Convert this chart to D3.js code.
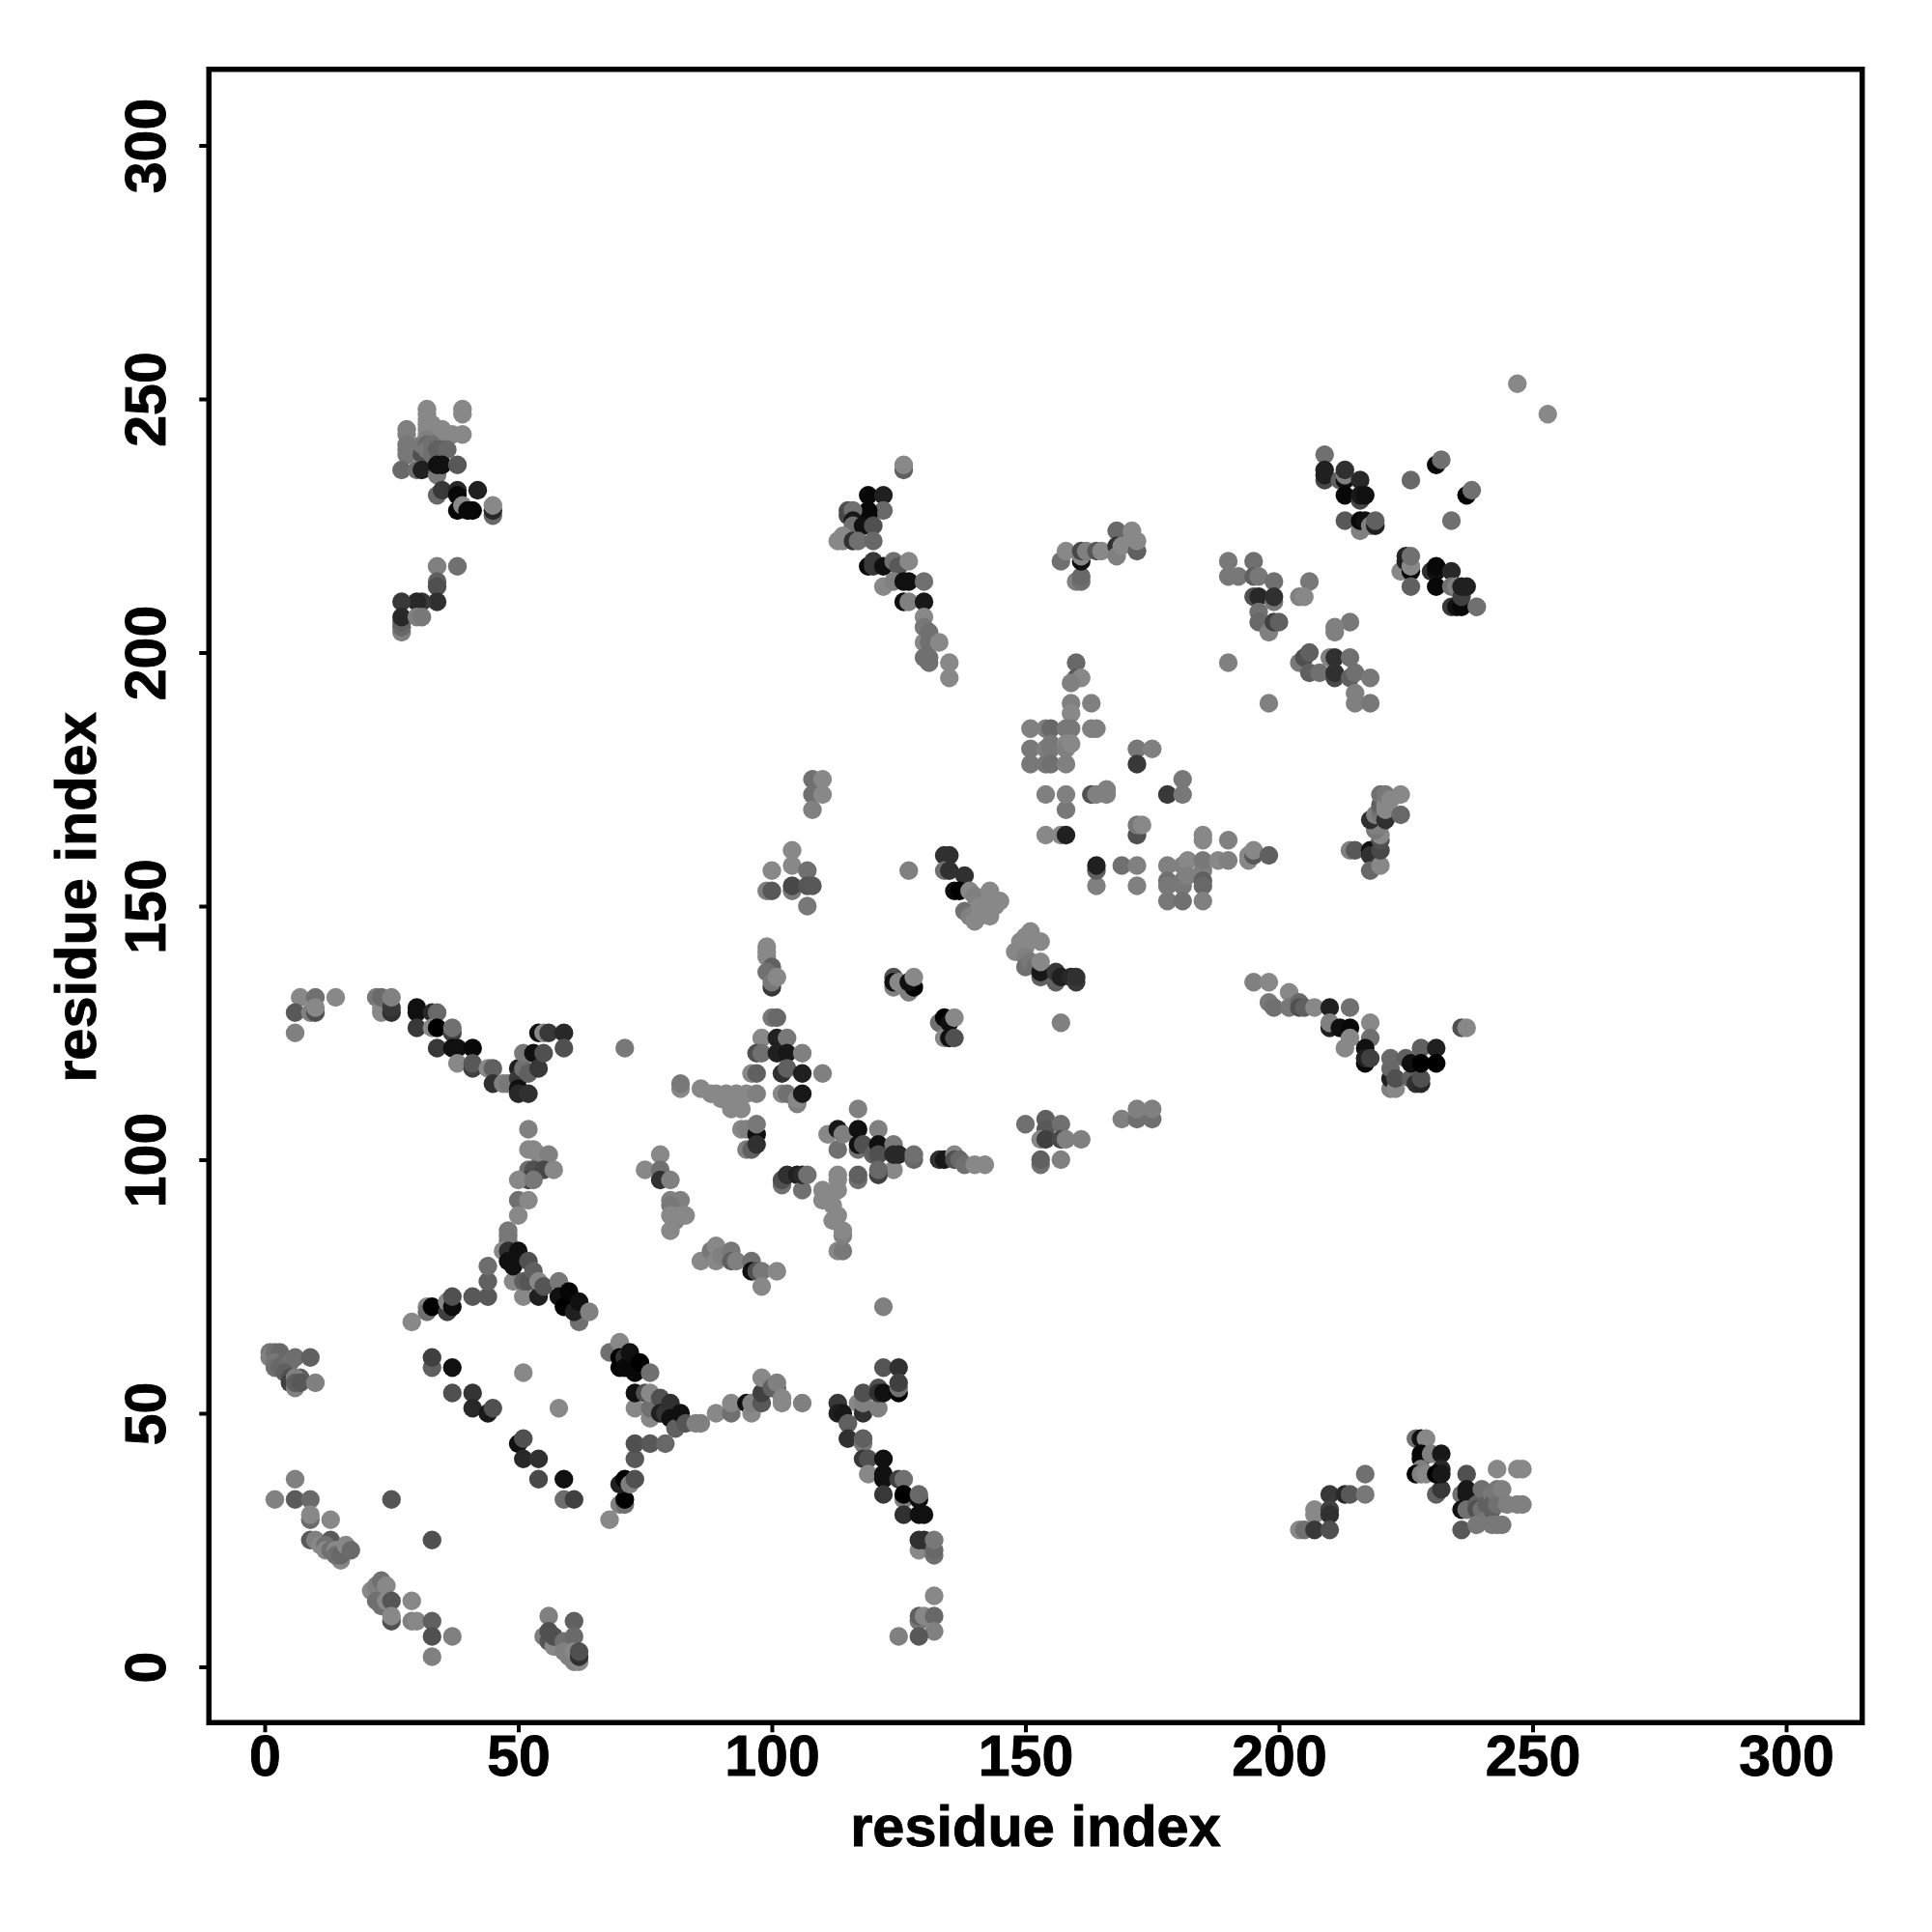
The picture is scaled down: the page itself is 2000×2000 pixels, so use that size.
<!DOCTYPE html>
<html><head><meta charset="utf-8">
<script src="https://d3js.org/d3.v7.min.js"></script>
<style>html,body{margin:0;background:#fff}svg{display:block}text{font-family:"Liberation Sans",Arial,sans-serif;font-weight:bold;fill:#000;stroke:#000;stroke-width:.9px}</style>
</head><body><svg id="c" width="2000" height="2000"></svg>
<script>
const xTicks=[0,50,100,150,200,250,300];
const yTicks=[0,50,100,150,200,250,300];
const xTitle="residue index", yTitle="residue index";
// each contact: [residue i, residue j, grey level]
const lowerLeft=[[1,62,0x78],[1,61,0x80],[2,62,0x70],[3,62,0x68],[2,60,0x78],[2,59,0x70],[3,59,0x68],[4,60,0x68],[5,60,0x70],[4,58,0x60],[5,57,0x50],[5,56,0x40],[7,57,0x60],[6,57,0x80],[6,55,0x80],[6,56,0x60],[7,56,0x58],[6,61,0x6e],[9,61,0x60],[10,56,0x80]];
const lowerDiagonal=[[6,37,0x80],[2,33,0x82],[6,33,0x5a],[9,33,0x6a],[9,29,0x6a],[9,30,0x88],[13,29,0x88],[9,25,0x5a],[10,25,0x80],[11,24,0x88],[13,25,0x5a],[12,24,0x70],[12,23,0x88],[13,23,0x70],[14,23,0x88],[15,21,0x88],[14,22,0x70],[15,22,0x68],[16,24,0x88],[17,23,0x6a],[25,33,0x55],[33,25,0x50]];
const lowerDiagonal2=[[21,15,0x88],[22,16,0x80],[23,17,0x70],[22,13,0x70],[23,12,0x70],[24,16,0x88],[24,13,0x88],[25,13,0x55],[25,9,0x50],[25,10,0x88],[29,13,0x88],[29,9,0x80],[30,9,0x88],[33,9,0x60],[33,6,0x50],[37,6,0x80],[33,2,0x80]];
const lowerPatch=[[56,10,0x80],[61,9,0x60],[55,6,0x80],[56,5,0x55],[57,4,0x88],[56,7,0x50],[57,6,0x50],[59,5,0x70],[59,3,0x80],[60,2,0x80],[61,6,0x6a],[61,1,0x80],[62,1,0x88],[61,3,0x88],[62,2,0x30],[62,3,0x50]];
const strandLeft=[[29,68,0x88],[32,71,0x88],[32,70,0x70],[33,71,0x00],[36,70,0x40],[36,72,0x88],[37,71,0x0c],[37,73,0x50],[41,73,0x58],[44,73,0x58],[44,76,0x60],[44,79,0x6e],[48,86,0x78],[48,85,0x78],[48,84,0x78],[48,83,0x78],[47,82,0x88],[49,76,0x88],[51,73,0x88],[48,82,0x30],[48,80,0x10],[49,79,0x10],[50,82,0x10],[51,76,0x60],[52,76,0x55],[52,80,0x50],[53,78,0x60],[54,73,0x20],[54,76,0x88],[55,75,0x55],[58,76,0x78],[58,73,0x10],[59,71,0x00],[60,74,0x05],[62,68,0x70],[61,70,0x20],[62,72,0x10],[64,70,0x80]];
const strandMid=[[33,59,0x60],[33,61,0x40],[37,59,0x10],[37,54,0x50],[41,54,0x35],[41,51,0x28],[44,50,0x18],[45,51,0x50],[51,58,0x88],[58,51,0x88],[50,44,0x10],[51,45,0x50],[51,41,0x28],[54,41,0x30],[54,37,0x48],[59,37,0x10],[59,33,0x6e],[61,33,0x40]];
const strandCross=[[68,29,0x88],[70,32,0x80],[71,32,0x70],[71,33,0x00],[70,36,0x20],[71,37,0x00],[72,36,0x80],[73,37,0x50],[73,41,0x58],[73,44,0x50],[76,44,0x58],[79,44,0x68]];
const strandCross2=[[68,62,0x70],[70,64,0x88],[70,61,0x00],[70,59,0x00],[71,61,0x30],[71,59,0x08],[72,62,0x10],[73,58,0x08],[74,60,0x00],[76,58,0x70],[73,51,0x88],[76,49,0x88],[73,54,0x10],[75,54,0x50],[76,51,0x70],[76,54,0x88],[78,53,0x50],[78,50,0x20],[79,50,0x35],[80,52,0x30],[80,49,0x10],[81,47,0x60],[82,50,0x10],[83,48,0x55],[85,48,0x80],[86,48,0x80]];
const midBand=[[89,50,0x88],[92,50,0x70],[92,52,0x88],[95,52,0x10],[96,50,0x88],[96,52,0x80],[98,52,0x58],[98,54,0x40],[98,57,0x88],[100,55,0x60],[101,55,0x60],[101,56,0x80],[102,53,0x88],[102,52,0x88],[106,52,0x80]];
const midStrand=[[113,52,0x38],[113,50,0x20],[114,50,0x18],[115,48,0x60],[117,52,0x88],[118,50,0x30],[118,52,0x80],[118,54,0x50],[121,51,0x80],[121,55,0x50],[121,54,0x30],[122,54,0x10],[122,59,0x55],[125,59,0x30],[125,54,0x00],[125,55,0x70],[125,56,0x40],[115,45,0x30],[118,44,0x78],[118,45,0x60],[118,41,0x38],[119,41,0x50],[122,41,0x10],[119,38,0x88],[122,38,0x10],[122,37,0x10],[125,37,0x40],[126,37,0x70],[122,34,0x38],[126,33,0x80],[126,34,0x00],[129,33,0x10],[129,34,0x68],[126,30,0x30],[129,30,0x10],[130,30,0x10],[129,23,0x88],[131,24,0x88],[129,25,0x30],[130,25,0x30],[132,22,0x70],[132,23,0x68],[132,25,0x78],[132,14,0x88],[129,9,0x78],[129,10,0x60],[130,10,0x88],[132,10,0x68],[132,7,0x80],[129,6,0x58],[125,6,0x80],[122,71,0x80]];
const diag80=[[86,80,0x88],[88,82,0x78],[89,83,0x88],[89,80,0x88],[90,81,0x80],[92,82,0x78],[92,80,0x60],[93,80,0x80],[96,80,0x70],[96,78,0x10],[97,78,0x50],[98,78,0x78],[101,78,0x88],[98,75,0x88],[113,82,0x88],[114,82,0x78],[114,85,0x80]];
const farLeftTop=[[7,132,0x88],[10,132,0x70],[14,132,0x88],[6,129,0x58],[9,129,0x80],[10,129,0x50],[10,130,0x88],[6,125,0x80],[22,132,0x78],[23,130,0x88],[23,129,0x88],[23,132,0x6a],[25,129,0x30],[25,130,0x38],[25,132,0x80]];
const vee=[[30,130,0x10],[30,129,0x10],[30,126,0x38],[33,129,0x28],[34,129,0x68],[33,126,0x88],[34,126,0x00],[37,125,0x40],[37,126,0x70],[34,122,0x38],[37,122,0x10],[38,122,0x10],[41,122,0x08],[38,119,0x88],[41,118,0x40],[41,119,0x58],[44,118,0x88],[45,118,0x60],[45,115,0x30],[47,115,0x80],[48,115,0x78],[50,118,0x20],[50,116,0x38],[50,114,0x10],[50,113,0x28],[52,113,0x30],[51,118,0x70],[52,117,0x60],[51,121,0x78],[53,121,0x10],[54,118,0x38],[55,121,0x50],[54,125,0x10],[55,125,0x88],[56,125,0x38],[59,125,0x28],[59,122,0x50],[71,122,0x78]];
const upStrand=[[52,106,0x80],[52,102,0x88],[53,102,0x88],[54,101,0x88],[56,101,0x80],[52,98,0x70],[53,98,0x50],[55,98,0x48],[57,98,0x88],[52,96,0x40],[50,96,0x88],[53,96,0x78],[50,92,0x70],[52,92,0x88],[50,89,0x88]];
const upStrand2=[[78,101,0x88],[75,98,0x88],[78,98,0x70],[78,96,0x30],[80,96,0x80],[80,92,0x80],[82,92,0x80],[80,91,0x78],[81,88,0x80],[80,89,0x88],[82,89,0x88],[83,89,0x88],[80,86,0x88]];
const lightBand=[[82,114,0x88],[82,115,0x78],[86,114,0x88],[88,113,0x88],[89,113,0x88],[90,112,0x88],[91,113,0x88],[92,110,0x88],[93,113,0x88],[93,112,0x88],[94,110,0x88],[95,113,0x88],[97,113,0x80],[94,106,0x88],[95,106,0x80],[97,105,0x10],[97,107,0x78],[95,102,0x80],[96,102,0x60],[97,103,0x30]];
const centre=[[98,124,0x88],[100,128,0x78],[101,128,0x68],[101,124,0x20],[103,124,0x78],[97,121,0x50],[98,121,0x70],[101,121,0x20],[103,121,0x18],[106,121,0x80],[96,117,0x88],[97,117,0x60],[102,117,0x30],[103,118,0x60],[106,117,0x20],[110,117,0x80],[102,113,0x88],[103,113,0x70],[105,111,0x80],[105,112,0x88],[106,113,0x18]];
const topMid=[[104,161,0x88],[100,157,0x88],[104,158,0x88],[107,157,0x70],[99,153,0x80],[100,153,0x58],[104,153,0x78],[104,154,0x48],[107,154,0x55],[108,154,0x58],[107,150,0x78],[108,175,0x70],[110,175,0x88],[108,172,0x70],[110,172,0x88],[108,169,0x80],[127,157,0x80]];
const column99=[[99,142,0x88],[99,141,0x88],[99,140,0x88],[100,138,0x60],[99,137,0x70],[100,134,0x38],[100,135,0x78],[101,136,0x88]];
const pair124=[[124,134,0x80],[124,136,0x50],[124,135,0x10],[125,135,0x88],[127,133,0x80],[128,134,0x00],[127,135,0x10],[128,136,0x88],[133,127,0x70],[134,124,0x88],[134,128,0x00],[135,127,0x10],[135,124,0x10],[136,128,0x88],[136,124,0x50]];
const mainDiag=[[134,160,0x30],[135,160,0x30],[134,157,0x70],[135,157,0x30],[138,156,0x30],[136,153,0x10],[137,153,0x00],[138,149,0x70],[139,148,0x80],[139,153,0x88],[140,152,0x80],[140,147,0x88],[141,150,0x88],[141,148,0x88],[142,149,0x88],[142,150,0x88],[143,148,0x88],[143,151,0x88],[143,153,0x88],[144,150,0x88],[145,151,0x88],[148,141,0x88],[149,143,0x88],[149,141,0x88],[150,144,0x88],[150,142,0x88],[150,140,0x80],[150,138,0x70],[151,145,0x88],[151,139,0x78],[152,138,0x70],[153,143,0x88],[153,136,0x60],[153,137,0x18],[153,139,0x88],[156,135,0x60],[156,137,0x38],[157,136,0x20],[159,136,0x28],[160,135,0x38],[160,136,0x30],[157,127,0x80]];
const belowMid=[[117,110,0x80],[111,105,0x88],[113,102,0x70],[113,106,0x18],[114,105,0x80],[117,102,0x70],[117,106,0x10],[117,103,0x10],[118,103,0x50],[121,106,0x80],[120,101,0x60],[121,103,0x10],[121,101,0x50],[124,103,0x78],[124,98,0x88],[124,101,0x28],[125,101,0x28],[128,100,0x68],[128,101,0x70],[121,97,0x40],[121,98,0x68],[117,96,0x70],[117,97,0x60],[133,100,0x30],[134,100,0x18],[136,101,0x88],[136,100,0x50],[137,100,0x68],[138,99,0x70],[140,99,0x88],[142,99,0x88]];
const rightMid=[[150,107,0x70],[154,108,0x60],[154,106,0x58],[157,107,0x70],[153,104,0x88],[154,104,0x40],[157,104,0x48],[158,104,0x80],[161,104,0x80],[153,99,0x70],[153,100,0x60],[157,100,0x80],[169,108,0x80],[172,108,0x70],[175,108,0x70],[172,110,0x80],[175,110,0x80]];
const loopA=[[102,95,0x70],[102,96,0x50],[103,97,0x30],[105,97,0x20],[106,94,0x70],[106,97,0x28],[107,97,0x70],[110,94,0x88],[110,92,0x88],[111,93,0x88],[112,91,0x88],[112,88,0x88],[113,97,0x88],[113,96,0x88],[113,94,0x88],[113,89,0x88],[114,86,0x88]];
const patchRight=[[154,164,0x88],[157,164,0x88],[158,164,0x20],[158,169,0x78],[154,172,0x80],[158,172,0x80],[163,172,0x50],[164,172,0x80],[166,173,0x80],[166,172,0x80],[164,154,0x80],[164,157,0x60],[164,158,0x20],[169,158,0x70],[172,158,0x80],[172,154,0x80],[172,164,0x50],[172,166,0x78],[173,166,0x88],[172,181,0x78],[175,181,0x80],[172,178,0x38],[181,175,0x78],[178,172,0x38],[181,172,0x78]];
const patchFar=[[178,158,0x80],[181,158,0x80],[182,159,0x88],[178,155,0x70],[178,154,0x78],[181,155,0x78],[181,154,0x78],[182,156,0x80],[185,157,0x80],[185,159,0x78],[185,155,0x60],[185,154,0x68],[178,151,0x78],[181,151,0x70],[185,151,0x80],[185,164,0x88],[185,163,0x88],[188,159,0x88],[190,163,0x80],[190,159,0x80],[194,159,0x88],[194,160,0x88],[195,160,0x58],[195,161,0x88],[198,160,0x60]];
const arm135=[[195,135,0x80],[198,135,0x88],[202,133,0x88],[198,131,0x78],[199,130,0x70],[202,130,0x78],[204,131,0x68],[204,130,0x50],[205,130,0x60],[207,130,0x88],[210,130,0x20],[214,130,0x70],[210,126,0x20],[210,127,0x80],[212,126,0x10],[214,126,0x08],[218,127,0x88],[214,124,0x88],[213,122,0x88],[218,124,0x70],[217,119,0x08],[217,122,0x10],[217,120,0x20],[218,120,0x40],[222,114,0x80],[222,116,0x20],[222,118,0x68],[222,120,0x68],[223,114,0x88],[223,116,0x50],[225,120,0x60],[226,116,0x60],[227,115,0x30],[228,115,0x28],[228,116,0x50],[226,119,0x10],[228,122,0x60],[228,119,0x00],[231,122,0x20],[231,119,0x00],[236,126,0x50],[237,126,0x88]];
const column218=[[214,161,0x80],[215,161,0x58],[218,161,0x10],[218,160,0x30],[218,157,0x68],[220,158,0x88],[220,161,0x48],[220,163,0x50],[220,164,0x88],[219,165,0x78],[219,166,0x80],[220,166,0x80],[218,167,0x30],[219,168,0x80],[220,168,0x78],[220,169,0x70],[220,170,0x60],[221,167,0x30],[220,172,0x70],[221,169,0x88],[221,170,0x88],[221,172,0x78],[222,171,0x88],[224,172,0x88],[224,168,0x68]];
const farBelow=[[217,38,0x70],[210,34,0x38],[213,34,0x28],[214,34,0x58],[217,34,0x78],[207,31,0x88],[207,30,0x88],[210,31,0x40],[210,30,0x30],[204,27,0x88],[205,27,0x70],[207,27,0x38],[210,27,0x50]];
const farBelow2=[[227,45,0x70],[228,45,0x10],[229,45,0x88],[228,42,0x08],[228,41,0x08],[230,42,0x80],[232,42,0x18],[228,39,0x80],[227,38,0x00],[228,38,0x80],[229,38,0x88],[231,34,0x60],[232,35,0x38],[232,39,0x28],[231,38,0x00],[232,38,0x18]];
const farBelow3=[[237,38,0x50],[236,34,0x70],[237,35,0x18],[237,34,0x18],[236,31,0x10],[237,31,0x70],[236,27,0x58],[239,32,0x60],[239,31,0x50],[240,35,0x70],[240,31,0x70],[239,28,0x78],[241,32,0x60],[241,29,0x78],[242,34,0x78],[242,31,0x60],[242,32,0x60],[242,28,0x78],[243,39,0x88],[243,35,0x78],[243,34,0x78],[243,32,0x70],[243,28,0x78],[244,35,0x80],[244,28,0x78],[245,32,0x80],[247,39,0x88],[247,32,0x80],[248,39,0x88],[248,32,0x80]];
const topFar=[[247,253,0x88],[253,247,0x88],[209,239,0x70],[209,234,0x48],[209,235,0x20],[209,236,0x20],[212,234,0x60],[213,234,0x10],[213,235,0x80],[213,236,0x30],[216,234,0x28],[213,231,0x08],[216,230,0x48],[216,231,0x18],[217,231,0x10],[213,226,0x58],[216,224,0x80],[216,226,0x08],[217,226,0x10],[218,225,0x80],[219,225,0x20],[219,226,0x60],[226,234,0x68],[231,237,0x08],[232,238,0x70],[237,231,0x00],[238,232,0x70],[234,226,0x70]];
const topFar2=[[224,216,0x88],[225,219,0x28],[225,218,0x20],[226,216,0x08],[226,217,0x88],[226,219,0x70],[226,213,0x60],[230,216,0x30],[231,216,0x10],[231,217,0x08],[231,213,0x08],[234,216,0x28],[234,213,0x70],[235,213,0x80],[234,209,0x38],[235,209,0x10],[236,209,0x08],[236,211,0x40],[236,213,0x20],[237,213,0x20],[239,209,0x70]];
const blob195=[[190,218,0x78],[195,218,0x70],[190,215,0x78],[192,215,0x78],[195,215,0x60],[196,215,0x78],[199,214,0x70],[206,214,0x78],[195,211,0x50],[196,211,0x28],[199,210,0x78],[199,211,0x30],[204,211,0x80],[205,211,0x88],[196,208,0x70],[196,206,0x68],[198,204,0x80],[199,206,0x40],[200,206,0x60],[190,198,0x80],[198,190,0x80]];
const blob210=[[214,206,0x78],[211,205,0x80],[211,204,0x80],[204,198,0x78],[205,199,0x50],[206,200,0x60],[206,196,0x60],[208,196,0x70],[210,199,0x80],[211,199,0x30],[214,199,0x70],[211,195,0x48],[211,196,0x30],[214,195,0x60],[215,196,0x70],[218,195,0x78],[215,192,0x80],[215,190,0x80],[218,190,0x78]];
const upper119=[[119,231,0x08],[122,231,0x20],[122,228,0x68],[119,228,0x08],[119,227,0x08],[115,228,0x50],[115,227,0x48],[116,228,0x70],[116,226,0x18],[116,225,0x70],[118,225,0x10],[120,225,0x50],[113,222,0x88],[114,223,0x88],[114,222,0x88],[116,222,0x30],[117,222,0x70],[120,222,0x68],[126,236,0x60],[126,237,0x88]];
const upper125=[[119,217,0x08],[120,218,0x38],[120,217,0x38],[122,217,0x10],[124,218,0x70],[125,217,0x58],[127,218,0x88],[122,213,0x88],[124,214,0x80],[126,214,0x10],[127,214,0x10],[130,214,0x70],[126,210,0x10],[127,210,0x80],[130,210,0x18],[130,207,0x88],[130,205,0x78],[130,202,0x88],[131,204,0x70],[131,202,0x70],[133,202,0x88],[130,199,0x70],[131,199,0x70],[131,198,0x70],[135,198,0x88],[135,195,0x88]];
const upper160=[[157,218,0x70],[158,220,0x88],[160,214,0x80],[161,214,0x70],[161,215,0x68],[161,218,0x10],[161,219,0x88],[161,220,0x48],[162,220,0x80],[164,220,0x58],[165,220,0x88],[168,224,0x68],[168,221,0x30],[168,219,0x80],[169,221,0x88],[171,224,0x88],[171,222,0x88],[172,220,0x60],[172,222,0x88]];
const triangle=[[160,198,0x68],[160,195,0x58],[161,195,0x88],[159,194,0x80],[159,190,0x80],[159,188,0x88],[163,190,0x80],[151,185,0x80],[154,185,0x80],[155,185,0x68],[158,185,0x78],[159,185,0x78],[163,185,0x80],[164,185,0x80],[151,181,0x78],[154,181,0x80],[155,182,0x78],[155,181,0x78],[158,182,0x88],[158,181,0x80],[159,182,0x88],[151,178,0x78],[154,178,0x78],[155,178,0x70],[158,178,0x80]];
const upperLeft=[[32,248,0x88],[32,247,0x88],[39,248,0x88],[39,247,0x88],[28,244,0x80],[28,243,0x80],[32,246,0x88],[32,245,0x88],[32,244,0x88],[32,243,0x88],[33,245,0x88],[33,243,0x88],[34,243,0x88],[35,244,0x88],[35,242,0x88],[36,243,0x88],[37,243,0x88],[39,243,0x88],[28,241,0x78],[28,240,0x78],[28,239,0x78],[31,239,0x50],[31,241,0x78],[32,242,0x80],[32,241,0x68],[32,240,0x78],[33,241,0x70],[33,239,0x70],[34,240,0x60],[35,240,0x60],[36,240,0x68],[27,236,0x68],[30,236,0x70],[31,236,0x20],[34,235,0x78],[34,237,0x10],[35,237,0x10],[38,237,0x58],[34,231,0x68],[35,232,0x38],[38,232,0x28],[38,231,0x08],[42,232,0x20],[38,228,0x00],[39,229,0x88],[40,228,0x08],[41,228,0x08],[45,227,0x68],[45,228,0x28],[45,229,0x88]];
const upperLeft2=[[34,217,0x80],[38,217,0x70],[34,214,0x60],[34,213,0x50],[34,210,0x30],[31,210,0x38],[30,210,0x28],[27,210,0x38],[27,204,0x80],[27,205,0x68],[27,206,0x60],[27,207,0x28],[30,207,0x80],[31,207,0x78]];

const groups=[lowerLeft,lowerDiagonal,lowerDiagonal2,lowerPatch,strandLeft,strandMid,strandCross,strandCross2,midBand,midStrand,diag80,farLeftTop,vee,upStrand,upStrand2,lightBand,centre,topMid,column99,pair124,mainDiag,belowMid,rightMid,loopA,patchRight,patchFar,arm135,column218,farBelow,farBelow2,farBelow3,topFar,topFar2,blob195,blob210,upper119,upper125,upper160,triangle,upperLeft,upperLeft2];
const contacts=groups.flat();

const svg=d3.select("#c");
const x=d3.scaleLinear().domain([0,300]).range([274,1849]);
const y=d3.scaleLinear().domain([0,300]).range([1725.5,150.5]);
const shade=d3.scaleLinear().domain([0,255]).range(["#000","#fff"]);
const lo=-11,hi=315;

svg.append("g").selectAll("circle").data(contacts).join("circle")
  .attr("cx",d=>x(d[0])).attr("cy",d=>y(d[1])).attr("r",9.7)
  .attr("fill",d=>shade(d[2]));

svg.append("rect").attr("x",x(lo)).attr("y",y(hi))
  .attr("width",x(hi)-x(lo)).attr("height",y(lo)-y(hi))
  .attr("fill","none").attr("stroke","#000").attr("stroke-width",5.5);

const ax=svg.append("g").attr("transform",`translate(0,${y(lo)})`)
  .call(d3.axisBottom(x).tickValues(xTicks).tickSize(10).tickPadding(14));
const ay=svg.append("g").attr("transform",`translate(${x(lo)},0)`)
  .call(d3.axisLeft(y).tickValues(yTicks).tickSize(10).tickPadding(0));
[ax,ay].forEach(a=>{a.select(".domain").remove();a.selectAll("line").attr("stroke","#000").attr("stroke-width",4);});
ax.selectAll("text").attr("font-size",59).attr("fill","#000").attr("dy",null)
  .attr("dominant-baseline","auto").attr("y",55);
ay.selectAll("text").attr("font-size",59).attr("fill","#000")
  .attr("dy",null).attr("text-anchor","middle")
  .attr("transform","translate(-45,0) rotate(-90)").attr("x",0).attr("y",0);

svg.append("text").attr("x",1072).attr("y",1911).attr("text-anchor","middle").attr("font-size",59.5).text(xTitle);
svg.append("text").attr("transform","translate(99,929) rotate(-90)").attr("text-anchor","middle").attr("font-size",59.5).text(yTitle);
</script></body></html>
